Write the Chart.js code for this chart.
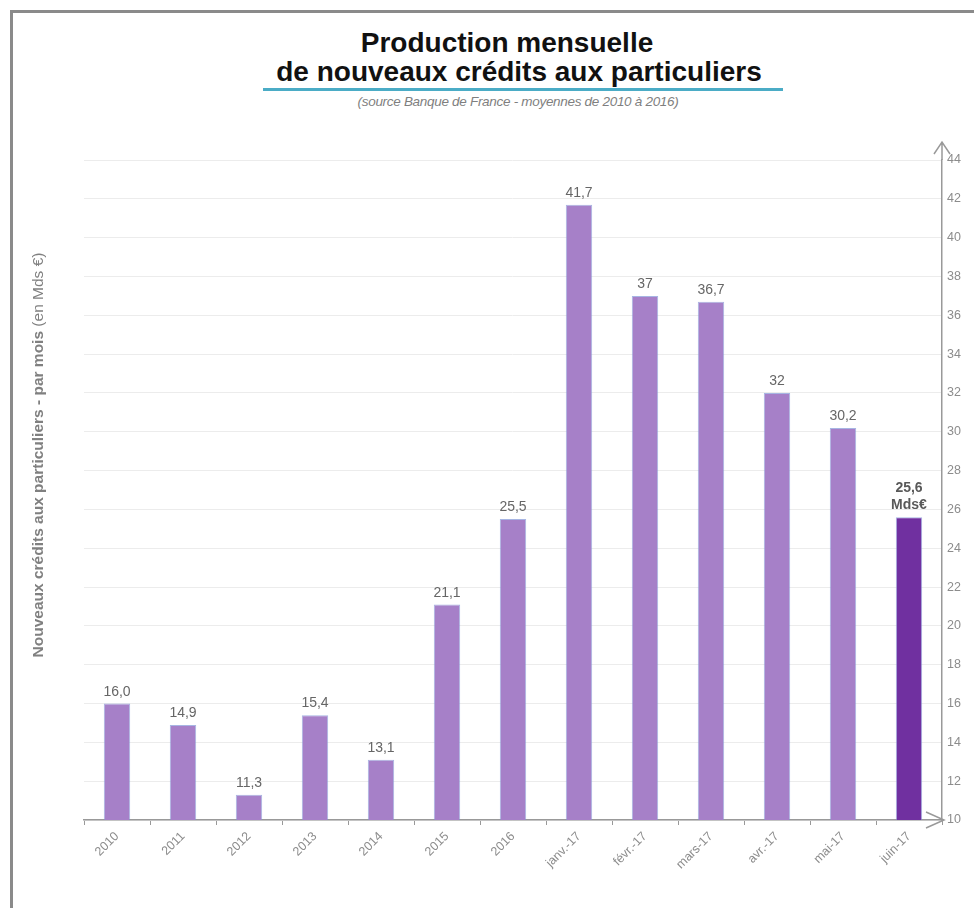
<!DOCTYPE html>
<html>
<head>
<meta charset="utf-8">
<script src="https://cdn.jsdelivr.net/npm/chart.js@4.4.1/dist/chart.umd.min.js"></script>
<style>
  html, body { margin: 0; padding: 0; background: #fff; }
  #wrap { position: relative; width: 974px; height: 908px; overflow: hidden; font-family: "Liberation Sans", Arial, sans-serif; }
  #frame { position: absolute; left: 10px; top: 10px; width: 980px; height: 920px; border-left: 3px solid #8a8a8a; border-top: 3px solid #8a8a8a; }
  .t { position: absolute; text-align: center; color: #111; font-weight: bold; font-size: 28px; line-height: 32px; white-space: nowrap; }
  #t1 { left: 307px; width: 400px; top: 27px; }
  #t2 { left: 219px; width: 600px; top: 56px; }
  #uline { position: absolute; left: 263px; width: 520px; top: 88px; height: 3px; background: #4bacc6; }
  #sub { position: absolute; left: 268px; width: 500px; top: 94px; text-align: center; font-size: 13.5px; letter-spacing: -0.3px; font-style: italic; color: #7f7f7f; white-space: nowrap; }
  canvas { position: absolute; left: 0; top: 0; }
</style>
</head>
<body>
<div id="wrap">
  <div id="frame"></div>
  <div class="t" id="t1">Production mensuelle</div>
  <div class="t" id="t2">de nouveaux crédits aux particuliers</div>
  <div id="uline"></div>
  <div id="sub">(source Banque de France - moyennes de 2010 à 2016)</div>
  <canvas id="myChart" width="974" height="908"></canvas>
</div>
<script>
document.addEventListener('DOMContentLoaded', function () {
    const categories = ['2010', '2011', '2012', '2013', '2014', '2015', '2016', 'janv.-17', 'févr.-17', 'mars-17', 'avr.-17', 'mai-17', 'juin-17'];
    const values = [16.0, 14.9, 11.3, 15.4, 13.1, 21.1, 25.5, 41.7, 37, 36.7, 32, 30.2, 25.6];
    const valueLabels = ['16,0', '14,9', '11,3', '15,4', '13,1', '21,1', '25,5', '41,7', '37', '36,7', '32', '30,2', '25,6\nMds€'];
    const yTitleBold = 'Nouveaux crédits aux particuliers - par mois';
    const yTitleNormal = ' (en Mds €)';

    const lightPurple = '#a680c8';
    const darkPurple = '#7030a0';
    const barColors = values.map((v, i) => i === values.length - 1 ? darkPurple : lightPurple);
    const fontFam = '"Liberation Sans", Arial, sans-serif';

    // labels au-dessus des barres
    const valueLabelPlugin = {
        id: 'valueLabels',
        afterDatasetsDraw(chart) {
            const ctx = chart.ctx;
            const meta = chart.getDatasetMeta(0);
            ctx.save();
            ctx.textAlign = 'center';
            ctx.textBaseline = 'alphabetic';
            meta.data.forEach(function (bar, i) {
                const last = i === values.length - 1;
                const lines = valueLabels[i].split('\n');
                ctx.fillStyle = last ? '#595959' : '#666666';
                ctx.font = (last ? 'bold ' : '') + '14px ' + fontFam;
                const lh = 17;
                lines.forEach(function (line, k) {
                    const y = bar.y - 8 - (lines.length - 1 - k) * lh;
                    ctx.fillText(line, bar.x, y);
                });
            });
            ctx.restore();
        }
    };

    // flèches des axes + titre vertical
    const decorPlugin = {
        id: 'decor',
        afterDraw(chart) {
            const ctx = chart.ctx;
            const a = chart.chartArea;
            ctx.save();
            ctx.strokeStyle = '#999999';
            ctx.lineWidth = 1.5;
            // axe y vers le haut
            ctx.beginPath();
            ctx.moveTo(a.right, a.top);
            ctx.lineTo(a.right, a.top - 18);
            ctx.moveTo(a.right - 8, a.top - 6);
            ctx.lineTo(a.right, a.top - 18);
            ctx.lineTo(a.right + 8, a.top - 6);
            ctx.stroke();
            // axe x vers la droite
            ctx.beginPath();
            ctx.moveTo(a.right - 16, a.bottom - 8);
            ctx.lineTo(a.right + 2, a.bottom);
            ctx.lineTo(a.right - 16, a.bottom + 8);
            ctx.stroke();

            // titre de l'axe (gauche)
            ctx.translate(39, 455);
            ctx.rotate(-Math.PI / 2);
            ctx.fillStyle = '#808080';
            ctx.textBaseline = 'middle';
            ctx.font = 'bold 15.5px ' + fontFam;
            const w1 = ctx.measureText(yTitleBold).width;
            ctx.font = '15.5px ' + fontFam;
            const w2 = ctx.measureText(yTitleNormal).width;
            let x = -(w1 + w2) / 2;
            ctx.font = 'bold 15.5px ' + fontFam;
            ctx.textAlign = 'left';
            ctx.fillText(yTitleBold, x, 0);
            ctx.font = '15.5px ' + fontFam;
            ctx.fillText(yTitleNormal, x + w1, 0);
            ctx.restore();
        }
    };

    const ctx = document.getElementById('myChart').getContext('2d');
    const myChart = new Chart(ctx, {
        type: 'bar',
        data: {
            labels: categories,
            datasets: [{
                data: values,
                backgroundColor: barColors,
                borderColor: 'rgba(130,150,215,0.7)',
                borderWidth: 1,
                barPercentage: 0.4,
                categoryPercentage: 1.0
            }]
        },
        options: {
            responsive: false,
            animation: false,
            layout: { padding: { left: 84, top: 160, right: 0, bottom: 0 } },
            plugins: {
                legend: { display: false },
                tooltip: { enabled: false }
            },
            scales: {
                x: {
                    grid: { display: true, drawOnChartArea: false, offset: true, tickLength: 5, color: '#999999' },
                    border: { color: '#999999', width: 1.5 },
                    ticks: {
                        minRotation: 45, maxRotation: 45, padding: 4,
                        color: '#8c8c8c',
                        font: { family: fontFam, size: 12.5 }
                    },
                    afterFit: function (scale) { scale.height = 88; }
                },
                y: {
                    position: 'right',
                    min: 10,
                    max: 44,
                    grid: { color: '#ececec', drawTicks: false },
                    border: { color: '#999999', width: 1.5 },
                    ticks: {
                        stepSize: 2,
                        padding: 5,
                        color: '#8c8c8c',
                        font: { family: fontFam, size: 12.5 }
                    },
                    afterFit: function (scale) { scale.width = 32; }
                }
            }
        },
        plugins: [valueLabelPlugin, decorPlugin]
    });
});
</script>
</body>
</html>
